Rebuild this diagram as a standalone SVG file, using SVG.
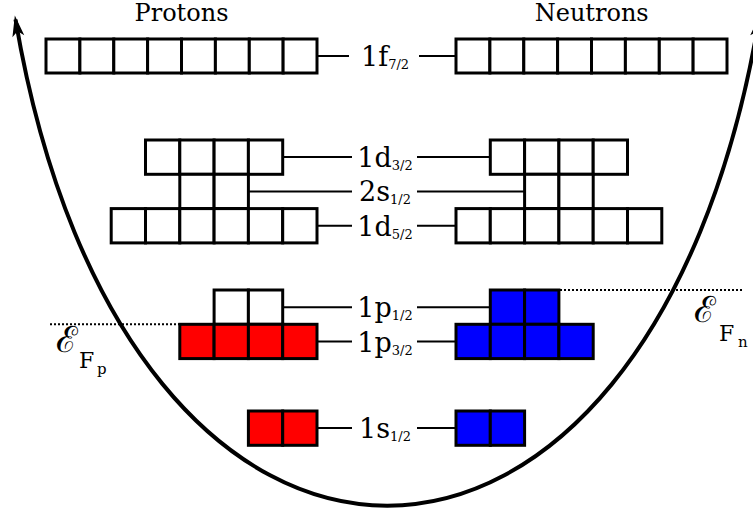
<svg xmlns="http://www.w3.org/2000/svg" width="753" height="511" viewBox="0 0 753 511">
<style>
.c{fill:#fff;stroke:#000;stroke-width:3}
.r{fill:#ff0000;stroke:#000;stroke-width:3}
.b{fill:#0000ff;stroke:#000;stroke-width:3}
.ln{stroke:#000;stroke-width:2;fill:none}
.dot{stroke:#000;stroke-width:2;stroke-dasharray:2 2;fill:none}
.lab{font-family:"DejaVu Serif","Liberation Serif",serif;font-size:27px;fill:#000;text-anchor:middle}
.sub{font-size:13px}
.hd{font-family:"DejaVu Serif","Liberation Serif",serif;font-size:24px;fill:#000;text-anchor:middle}
.ef{font-family:"DejaVu Serif","Liberation Serif",serif;fill:#000}
</style>
<defs>
<marker id="ah" markerUnits="userSpaceOnUse" viewBox="-20 -8 26 16" refX="0" refY="0" markerWidth="26" markerHeight="16" orient="auto-start-reverse">
<path d="M4,0 L-17,-6 L-12,0 L-17,6 Z" fill="#000"/>
</marker>
</defs>
<rect width="753" height="511" fill="#fff"/>
<g id="well">
<path d="M15.5,19.5 C125.5,667.7 649,667.7 759,19.5" fill="none" stroke="#000" stroke-width="4" marker-start="url(#ah)" marker-end="url(#ah)"/>
</g>
<g id="fermi">
<path class="dot" d="M50,324.3 H179.8"/>
<path class="dot" d="M560,290 H742"/>
<text class="ef" x="56" y="352" font-size="36">ℰ</text>
<text class="ef" x="79" y="368" font-size="22">F</text>
<text class="ef" x="97" y="374" font-size="15">p</text>
<text class="ef" x="694" y="322" font-size="36">ℰ</text>
<text class="ef" x="719" y="341" font-size="22">F</text>
<text class="ef" x="738" y="347" font-size="15">n</text>
</g>
<text class="hd" x="181.5" y="21">Protons</text>
<text class="hd" x="591.7" y="21">Neutrons</text>
<g id="connectors">
<path class="ln" d="M317,56 H349 M419,56 H456"/>
<path class="ln" d="M282.7,157 H352 M417,157 H490.3"/>
<path class="ln" d="M248.4,191.4 H352 M417,191.4 H524.6"/>
<path class="ln" d="M317,225.7 H352 M417,225.7 H456"/>
<path class="ln" d="M282.7,307.2 H352 M417,307.2 H490.3"/>
<path class="ln" d="M317,341.5 H352 M417,341.5 H456"/>
<path class="ln" d="M317,428 H352 M417,428 H456"/>
</g>
<g id="labels">
<text class="lab" x="385" y="66">1f<tspan class="sub" dy="3">7/2</tspan></text>
<text class="lab" x="385" y="167">1d<tspan class="sub" dy="3">3/2</tspan></text>
<text class="lab" x="385" y="201.4">2s<tspan class="sub" dy="3">1/2</tspan></text>
<text class="lab" x="385" y="235.7">1d<tspan class="sub" dy="3">5/2</tspan></text>
<text class="lab" x="385" y="317.2">1p<tspan class="sub" dy="3">1/2</tspan></text>
<text class="lab" x="385" y="351.5">1p<tspan class="sub" dy="3">3/2</tspan></text>
<text class="lab" x="385" y="438">1s<tspan class="sub" dy="3">1/2</tspan></text>
</g>
<g id="p-1f72">
<rect class="c" x="46" y="39" width="33.9" height="34"/><rect class="c" x="79.9" y="39" width="33.9" height="34"/><rect class="c" x="113.8" y="39" width="33.9" height="34"/><rect class="c" x="147.6" y="39" width="33.9" height="34"/><rect class="c" x="181.5" y="39" width="33.9" height="34"/><rect class="c" x="215.4" y="39" width="33.9" height="34"/><rect class="c" x="249.3" y="39" width="33.9" height="34"/><rect class="c" x="283.1" y="39" width="33.9" height="34"/>
</g>
<g id="n-1f72">
<rect class="c" x="456" y="39" width="33.9" height="34"/><rect class="c" x="489.9" y="39" width="33.9" height="34"/><rect class="c" x="523.8" y="39" width="33.9" height="34"/><rect class="c" x="557.6" y="39" width="33.9" height="34"/><rect class="c" x="591.5" y="39" width="33.9" height="34"/><rect class="c" x="625.4" y="39" width="33.9" height="34"/><rect class="c" x="659.3" y="39" width="33.9" height="34"/><rect class="c" x="693.1" y="39" width="33.9" height="34"/>
</g>
<g id="p-1d32">
<rect class="c" x="145.5" y="140" width="34.3" height="34.3"/><rect class="c" x="179.8" y="140" width="34.3" height="34.3"/><rect class="c" x="214.1" y="140" width="34.3" height="34.3"/><rect class="c" x="248.4" y="140" width="34.3" height="34.3"/>
</g>
<g id="p-2s12">
<rect class="c" x="179.8" y="174.3" width="34.3" height="34.3"/><rect class="c" x="214.1" y="174.3" width="34.3" height="34.3"/>
</g>
<g id="p-1d52">
<rect class="c" x="111.2" y="208.6" width="34.3" height="34.3"/><rect class="c" x="145.5" y="208.6" width="34.3" height="34.3"/><rect class="c" x="179.8" y="208.6" width="34.3" height="34.3"/><rect class="c" x="214.1" y="208.6" width="34.3" height="34.3"/><rect class="c" x="248.4" y="208.6" width="34.3" height="34.3"/><rect class="c" x="282.7" y="208.6" width="34.3" height="34.3"/>
</g>
<g id="n-1d32">
<rect class="c" x="490.3" y="140" width="34.3" height="34.3"/><rect class="c" x="524.6" y="140" width="34.3" height="34.3"/><rect class="c" x="558.9" y="140" width="34.3" height="34.3"/><rect class="c" x="593.2" y="140" width="34.3" height="34.3"/>
</g>
<g id="n-2s12">
<rect class="c" x="524.6" y="174.3" width="34.3" height="34.3"/><rect class="c" x="558.9" y="174.3" width="34.3" height="34.3"/>
</g>
<g id="n-1d52">
<rect class="c" x="456" y="208.6" width="34.3" height="34.3"/><rect class="c" x="490.3" y="208.6" width="34.3" height="34.3"/><rect class="c" x="524.6" y="208.6" width="34.3" height="34.3"/><rect class="c" x="558.9" y="208.6" width="34.3" height="34.3"/><rect class="c" x="593.2" y="208.6" width="34.3" height="34.3"/><rect class="c" x="627.5" y="208.6" width="34.3" height="34.3"/>
</g>
<g id="p-1p12">
<rect class="c" x="214.1" y="290" width="34.3" height="34.3"/><rect class="c" x="248.4" y="290" width="34.3" height="34.3"/>
</g>
<g id="p-1p32">
<rect class="r" x="179.8" y="324.3" width="34.3" height="34.3"/><rect class="r" x="214.1" y="324.3" width="34.3" height="34.3"/><rect class="r" x="248.4" y="324.3" width="34.3" height="34.3"/><rect class="r" x="282.7" y="324.3" width="34.3" height="34.3"/>
</g>
<g id="n-1p12">
<rect class="b" x="490.3" y="290" width="34.3" height="34.3"/><rect class="b" x="524.6" y="290" width="34.3" height="34.3"/>
</g>
<g id="n-1p32">
<rect class="b" x="456" y="324.3" width="34.3" height="34.3"/><rect class="b" x="490.3" y="324.3" width="34.3" height="34.3"/><rect class="b" x="524.6" y="324.3" width="34.3" height="34.3"/><rect class="b" x="558.9" y="324.3" width="34.3" height="34.3"/>
</g>
<g id="p-1s12">
<rect class="r" x="248.4" y="411" width="34.3" height="34.3"/><rect class="r" x="282.7" y="411" width="34.3" height="34.3"/>
</g>
<g id="n-1s12">
<rect class="b" x="456" y="411" width="34.3" height="34.3"/><rect class="b" x="490.3" y="411" width="34.3" height="34.3"/>
</g>
</svg>
